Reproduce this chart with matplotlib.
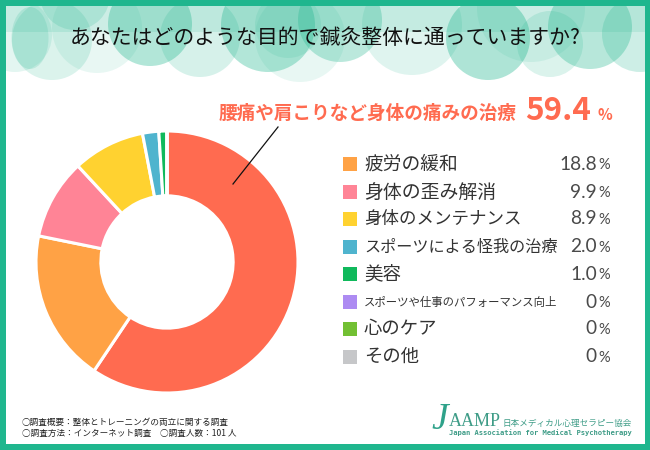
import matplotlib
matplotlib.use('Agg')
import matplotlib.pyplot as plt
from matplotlib.patches import Ellipse, Rectangle

plt.rcParams['font.family'] = ['Noto Sans CJK JP', 'DejaVu Sans']

# データ
title = 'あなたはどのような目的で鍼灸整体に通っていますか?'
top_label = '腰痛や肩こりなど身体の痛みの治療'
top_value = '59.4'
top_num = 59.4
categories = ['疲労の緩和', '身体の歪み解消', '身体のメンテナンス', 'スポーツによる怪我の治療',
              '美容', 'スポーツや仕事のパフォーマンス向上', '心のケア', 'その他']
values = [18.8, 9.9, 8.9, 2.0, 1.0, 0, 0, 0]
value_labels = ['18.8', '9.9', '8.9', '2.0', '1.0', '0', '0', '0']
colors = ['#FFA245', '#FF8496', '#FFD230', '#4FB4CE', '#10B95C', '#AD8BF2', '#72C033', '#C6C7C9']
top_color = '#FF6B50'
teal = '#1FB68E'
logo_color = '#3E9C87'

fig = plt.figure(figsize=(6.5, 4.5), dpi=100)
bg = fig.add_axes([0, 0, 1, 1])
bg.set_xlim(0, 650)
bg.set_ylim(450, 0)
bg.axis('off')

# 枠
bg.add_patch(Rectangle((0, 0), 650, 450, fc=teal, ec='none', zorder=0))
inner = Rectangle((6, 6), 639, 438, fc='white', ec='none', zorder=1)
bg.add_patch(inner)

# 上部の丸い模様
bg.add_patch(Rectangle((6, 6), 639, 26, fc='#E0F4EF', ec='none', zorder=1.1))
blobs = [
    (15, 35, 74, 74, 0.12), (52, 40, 80, 80, 0.16), (97, 28, 90, 90, 0.10), (75, -5, 70, 70, 0.18),
    (30, 38, 37, 62, 0.16), (150, 24, 84, 84, 0.34), (200, 37, 80, 80, 0.18), (268, 25, 94, 94, 0.34),
    (300, 37, 90, 90, 0.10), (340, 20, 84, 84, 0.30), (288, 25, 66, 66, 0.12), (412, 25, 100, 100, 0.14),
    (488, 38, 84, 84, 0.36), (531, 8, 108, 108, 0.10), (550, 44, 66, 66, 0.16), (590, 27, 84, 84, 0.32),
    (640, 34, 76, 76, 0.22),
]
for bx, by, w, h, a in blobs:
    e = Ellipse((bx, by), w, h, fc=teal, ec='none', alpha=a, zorder=1.2)
    bg.add_patch(e)
    e.set_clip_path(inner)

bg.text(325, 38, title, fontsize=15, color='#111111', ha='center', va='center', zorder=3)

# 見出し
bg.text(517, 113, top_label, fontsize=13.4, color=top_color, fontweight='bold',
        ha='right', va='center', zorder=3)
bg.text(525, 111, top_value, fontsize=22.6, color=top_color, fontweight='bold',
        ha='left', va='center', zorder=3)
bg.text(597, 115, '%', fontsize=11, color=top_color, fontweight='bold',
        ha='left', va='center', zorder=3)

# ドーナツ
cx, cy, r = 167, 262, 131
ax = fig.add_axes([(cx - r) / 650, 1 - (cy + r) / 450, 2 * r / 650, 2 * r / 450])
ax.pie([top_num] + values, colors=[top_color] + colors, startangle=90, counterclock=False,
       radius=1, wedgeprops=dict(width=0.495, edgecolor='white', linewidth=2.2))
ax.set_xlim(-1, 1)
ax.set_ylim(-1, 1)
ax.patch.set_alpha(0)

# 引き出し線
line_ax = fig.add_axes([0, 0, 1, 1])
line_ax.set_xlim(0, 650)
line_ax.set_ylim(450, 0)
line_ax.axis('off')
line_ax.plot([233, 278], [184, 127], color='#111111', lw=0.9)

# 凡例
row_y = [164, 192, 219, 247, 274, 302, 329, 357]
label_sizes = [13.5, 13.6, 12.6, 11.6, 13.3, 8.2, 13.2, 13.2]
for y, name, label, c, size in zip(row_y, categories, value_labels, colors, label_sizes):
    bg.add_patch(Rectangle((343, y - 7), 14, 14, fc=c, ec='none', zorder=3))
    bg.text(364, y, name, fontsize=size, color='#333333', ha='left', va='center', zorder=3)
    bg.text(597, y, label, fontsize=13.8, color='#4A4A4A', ha='right', va='center', zorder=3,
            family='Lato')
    bg.text(598, y + 1, '%', fontsize=10.5, color='#4A4A4A', ha='left', va='center', zorder=3,
            family='Lato')

# 注記
bg.text(22, 422, '○調査概要：整体とトレーニングの両立に関する調査', fontsize=6.2, color='#222222',
        ha='left', va='center', zorder=3)
bg.text(22, 433, '○調査方法：インターネット調査　○調査人数：101 人', fontsize=6.2, color='#222222',
        ha='left', va='center', zorder=3)

# ロゴ
bg.text(431, 420, 'J', fontsize=27, color='#2FA28A', family='Liberation Serif', style='italic',
        ha='left', va='center', zorder=3)
bg.text(449, 421, 'AAMP', fontsize=13, color=logo_color, family='Liberation Serif',
        ha='left', va='center', zorder=3)
bg.text(502, 423, '日本メディカル心理セラピー協会', fontsize=6.2, color=logo_color,
        ha='left', va='center', zorder=3)
bg.text(449, 433, 'Japan Association for Medical Psychotherapy', fontsize=5.15, color=logo_color,
        family='DejaVu Sans Mono', fontweight='bold', ha='left', va='center', zorder=3)

fig.savefig('out.png', dpi=100)
